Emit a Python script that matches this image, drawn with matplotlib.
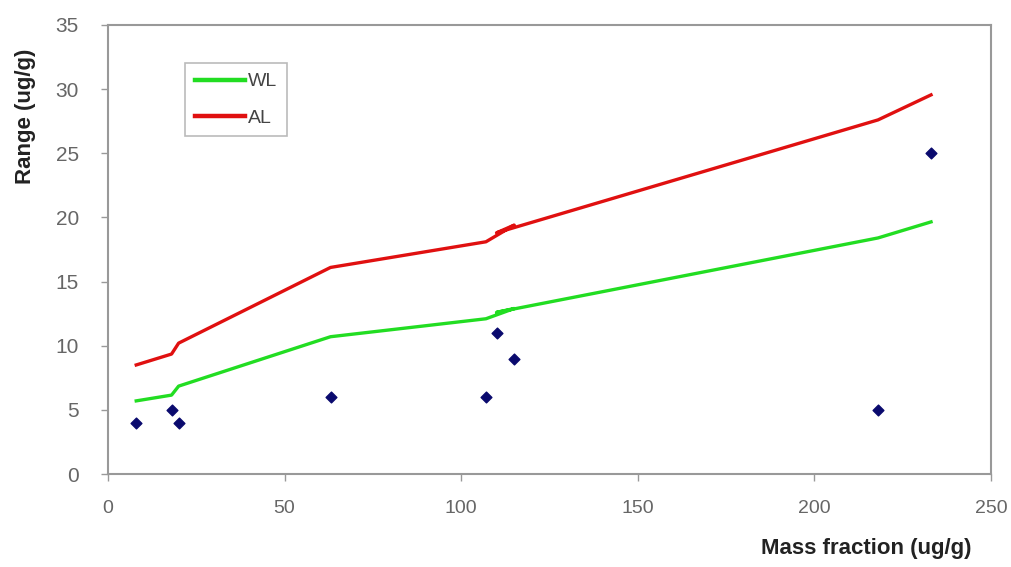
import matplotlib
matplotlib.use("Agg")
import matplotlib.pyplot as plt

plt.rcParams['font.family'] = ['Liberation Sans', 'DejaVu Sans']

# Line data (in original data order)
line_x = [8, 18, 20, 63, 107, 115, 110, 218, 233]
wl_vals = [5.7, 6.15, 6.85, 10.7, 12.1, 12.9, 12.6, 18.4, 19.65]
al_vals = [8.5, 9.35, 10.2, 16.1, 18.1, 19.4, 18.8, 27.6, 29.55]

# Measured points
pt_x = [8, 18, 20, 63, 107, 110, 115, 218, 233]
pt_y = [4, 5, 4, 6, 6, 11, 9, 5, 25]

x_ticks = [0, 50, 100, 150, 200, 250]
y_ticks = [0, 5, 10, 15, 20, 25, 30, 35]

fig = plt.figure(figsize=(10.11, 5.67), dpi=100)
ax = fig.add_axes([0.1068, 0.164, 0.8735, 0.792])

ax.plot(line_x, wl_vals, color='#22dd22', lw=2.4, label='WL', zorder=3)
ax.plot(line_x, al_vals, color='#e01010', lw=2.4, label='AL', zorder=3)
ax.scatter(pt_x, pt_y, marker='D', s=30, color='#0a0a6e', zorder=4)

ax.set_xlim(0, 250)
ax.set_ylim(0, 35)
ax.set_xticks(x_ticks)
ax.set_yticks(y_ticks)
for s in ax.spines.values():
    s.set_color('#999999')
    s.set_linewidth(1.5)
ax.tick_params(axis='both', colors='#999999', labelcolor='#666666',
               length=5, width=1, direction='out')
ax.tick_params(axis='x', labelsize=14, pad=13.5)
ax.tick_params(axis='y', labelsize=15, pad=16)

fig.text(0.025, 0.795, 'Range (ug/g)', rotation=90, ha='center', va='center',
         fontsize=16, fontweight='bold', color='#222222')
fig.text(0.857, 0.033, 'Mass fraction (ug/g)', ha='center', va='center',
         fontsize=16, fontweight='bold', color='#222222')

leg = ax.legend(loc='upper left', bbox_to_anchor=(0.087, 0.915), fontsize=14,
                frameon=True, fancybox=False, handlelength=2.6,
                handletextpad=0.15, borderpad=0.5, labelspacing=0.95,
                borderaxespad=0, labelcolor='#444444')
for h in leg.get_lines():
    h.set_linewidth(3.2)
leg.get_frame().set_edgecolor('#aaaaaa')
leg.get_frame().set_linewidth(1.2)

fig.savefig('out.png', dpi=100)
